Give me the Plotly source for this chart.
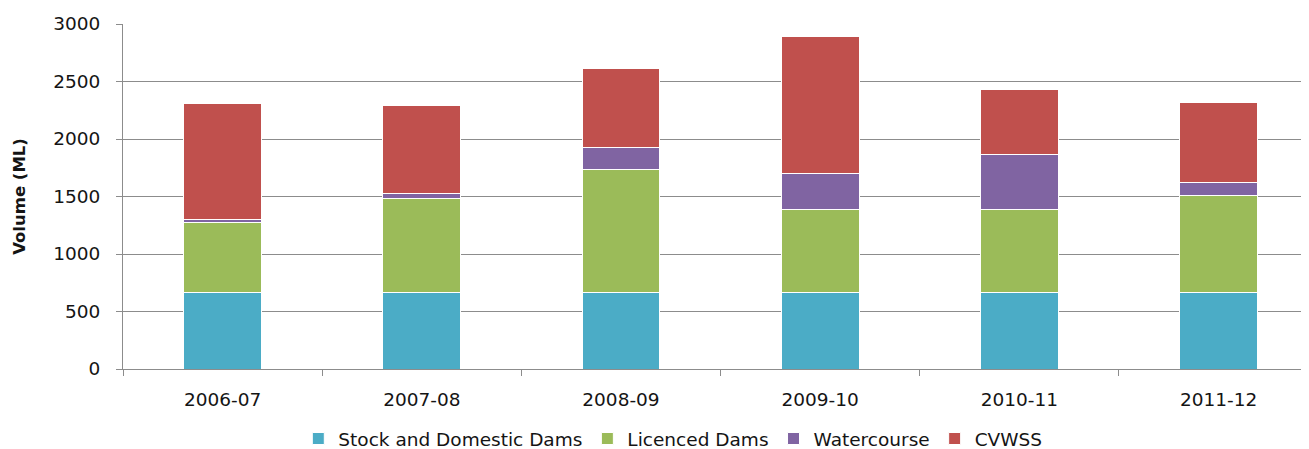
import plotly.graph_objects as go

years = ["2006-07", "2007-08", "2008-09", "2009-10", "2010-11", "2011-12"]
stock_domestic = [666, 666, 666, 666, 668, 666]
licenced = [604, 815, 1067, 719, 717, 847]
watercourse = [34, 49, 197, 319, 476, 110]
cvwss = [1009, 760, 679, 1188, 568, 695]

series = [
    ("Stock and Domestic Dams", stock_domestic, "#4BACC6"),
    ("Licenced Dams", licenced, "#9BBB59"),
    ("Watercourse", watercourse, "#8064A2"),
    ("CVWSS", cvwss, "#C0504D"),
]

fig = go.Figure()
for name, vals, col in series:
    fig.add_trace(go.Bar(
        x=years, y=vals, name=name,
        marker=dict(color=col, line=dict(color="white", width=1)),
        width=0.39,
    ))

font = "DejaVu Sans"
txt = "#141414"
fig.update_layout(
    barmode="stack",
    width=1301, height=441,
    margin=dict(l=115, r=0, t=16, b=80, autoexpand=False),
    paper_bgcolor="white", plot_bgcolor="white",
    font=dict(family=font, size=18, color=txt),
    showlegend=True,
    legend=dict(
        orientation="h", traceorder="normal",
        xref="container", x=0.511, xanchor="center",
        yref="container", y=0.0227, yanchor="middle",
        font=dict(family=font, size=18.5, color=txt),
        itemwidth=30, tracegroupgap=0,
    ),
    xaxis=dict(
        type="category",
        range=[-0.5, 5.454],
        tickson="boundaries",
        ticks="outside", ticklen=6, tickcolor="#8c8c8c",
        showline=True, linecolor="#8c8c8c", linewidth=1,
        showgrid=False,
        ticklabelstandoff=14,
        tickfont=dict(family=font, size=18.5, color=txt),
    ),
    yaxis=dict(
        range=[0, 3000], dtick=500,
        showgrid=True, gridcolor="#8c8c8c", gridwidth=1,
        showline=True, linecolor="#8c8c8c", linewidth=1,
        ticks="outside", ticklen=6, tickcolor="#8c8c8c",
        ticklabelstandoff=12,
        tickfont=dict(family=font, size=18.5, color=txt),
        title=dict(text="<b>Volume (ML)</b>", font=dict(family=font, size=16.5, color=txt), standoff=23),
        automargin=False,
        zeroline=False,
    ),
)

fig.write_html("out.html")
